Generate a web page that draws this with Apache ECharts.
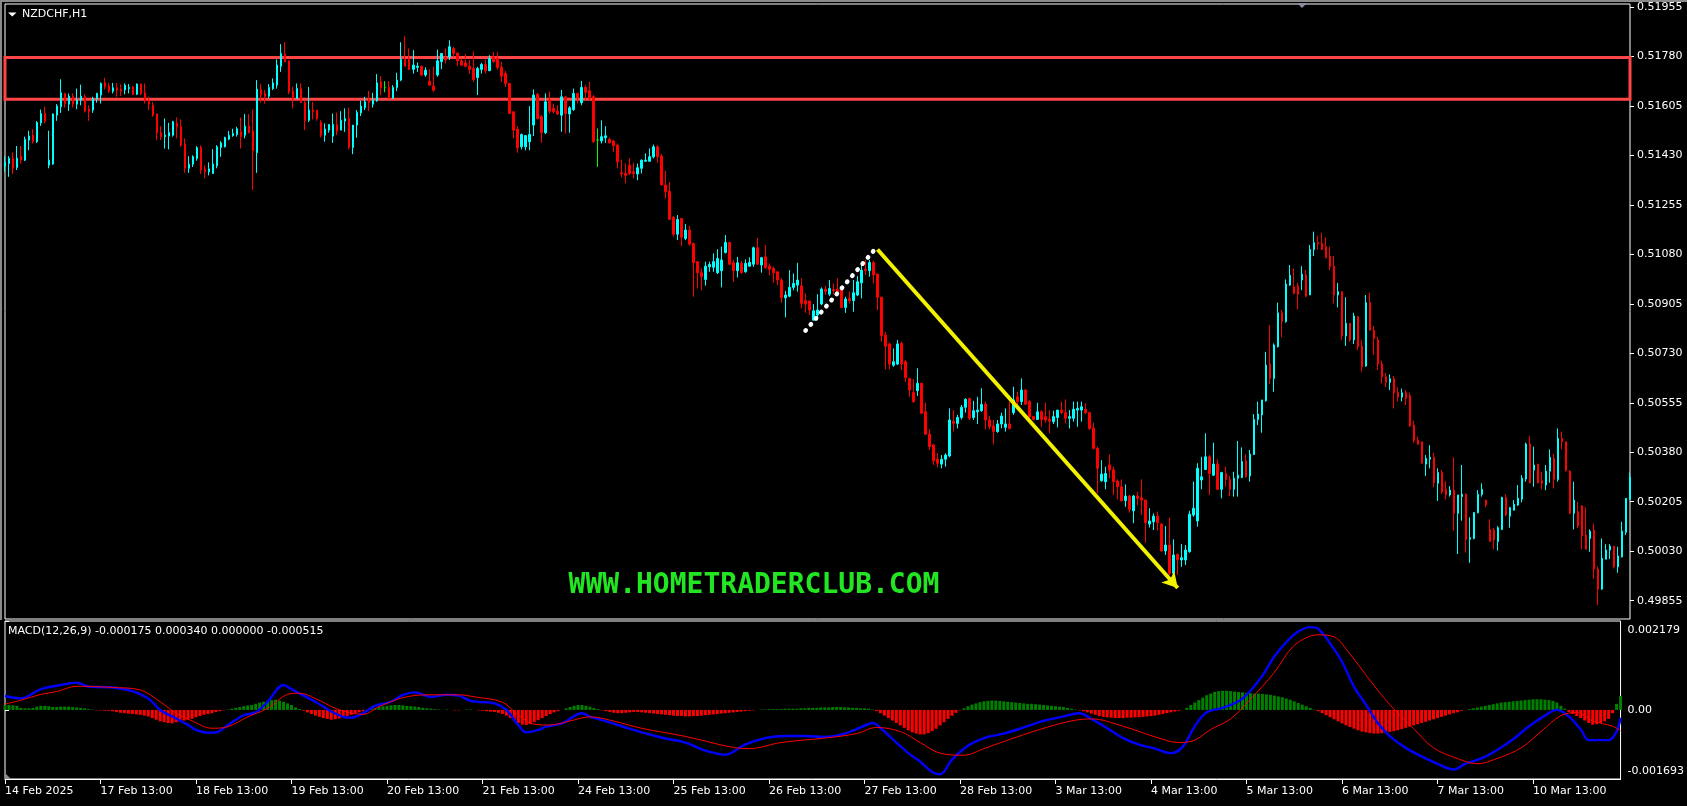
<!DOCTYPE html>
<html><head><meta charset="utf-8">
<script src="https://cdn.jsdelivr.net/npm/echarts@6/dist/echarts.min.js"></script>
<style>html,body{margin:0;padding:0;background:#000;overflow:hidden}#c{width:1687px;height:806px}</style>
</head><body><div id="c"></div>
<script>
// ---------------- DATA ----------------
const symbolTitle = 'NZDCHF,H1';
const macdTitle = 'MACD(12,26,9) -0.000175 0.000340 0.000000 -0.000515';
const watermark = 'WWW.HOMETRADERCLUB.COM';

const open = [
0.51392,0.51401,0.51419,0.51387,0.51427,0.51413,0.51484,0.51501,0.51478,0.51545,
0.51578,0.51395,0.51399,0.51572,0.51602,0.51649,0.51611,0.51639,0.51611,0.51625,
0.51637,0.51593,0.51590,0.51631,0.51643,0.51686,0.51675,0.51657,0.51669,0.51663,
0.51661,0.51666,0.51672,0.51646,0.51682,0.51651,0.51620,0.51607,0.51576,0.51510,
0.51496,0.51498,0.51501,0.51543,0.51531,0.51470,0.51384,0.51399,0.51419,0.51458,
0.51381,0.51372,0.51366,0.51393,0.51458,0.51460,0.51487,0.51499,0.51504,0.51513,
0.51501,0.51533,0.51516,0.51439,0.51663,0.51649,0.51639,0.51666,0.51678,0.51745,
0.51788,0.51763,0.51657,0.51631,0.51666,0.51616,0.51554,0.51590,0.51590,0.51546,
0.51501,0.51519,0.51498,0.51539,0.51519,0.51551,0.51560,0.51458,0.51537,0.51580,
0.51599,0.51625,0.51611,0.51623,0.51690,0.51670,0.51670,0.51631,0.51670,0.51696,
0.51769,0.51772,0.51734,0.51741,0.51745,0.51714,0.51692,0.51675,0.51714,0.51761,
0.51776,0.51778,0.51808,0.51792,0.51764,0.51757,0.51745,0.51737,0.51705,0.51734,
0.51751,0.51729,0.51778,0.51772,0.51741,0.51719,0.51684,0.51584,0.51523,0.51460,
0.51460,0.51478,0.51537,0.51646,0.51566,0.51510,0.51625,0.51596,0.51586,0.51572,
0.51637,0.51576,0.51592,0.51649,0.51616,0.51670,0.51658,0.51637,0.51484,0.51481,
0.51492,0.51487,0.51481,0.51466,0.51368,0.51366,0.51395,0.51372,0.51364,0.51384,
0.51409,0.51409,0.51425,0.51460,0.51427,0.51325,0.51303,0.51210,0.51151,0.51207,
0.51136,0.51166,0.51118,0.51054,0.51015,0.50991,0.51036,0.51034,0.51015,0.51022,
0.51086,0.51122,0.51050,0.51022,0.51048,0.51018,0.51038,0.51045,0.51103,0.51042,
0.51071,0.51038,0.51030,0.51018,0.50989,0.50926,0.50932,0.50963,0.50971,0.50968,
0.50916,0.50915,0.50847,0.50865,0.50904,0.50957,0.50939,0.50956,0.50956,0.50953,
0.50892,0.50924,0.50916,0.50936,0.50979,0.51027,0.51022,0.51051,0.51010,0.50928,
0.50794,0.50763,0.50688,0.50692,0.50765,0.50700,0.50641,0.50591,0.50598,0.50624,
0.50523,0.50444,0.50406,0.50355,0.50338,0.50355,0.50367,0.50490,0.50482,0.50503,
0.50539,0.50570,0.50503,0.50523,0.50527,0.50550,0.50494,0.50473,0.50453,0.50480,
0.50468,0.50480,0.50520,0.50576,0.50559,0.50600,0.50559,0.50506,0.50496,0.50523,
0.50506,0.50496,0.50488,0.50503,0.50529,0.50520,0.50500,0.50500,0.50529,0.50529,
0.50532,0.50520,0.50465,0.50394,0.50279,0.50276,0.50335,0.50317,0.50278,0.50258,
0.50209,0.50225,0.50173,0.50225,0.50219,0.50211,0.50126,0.50134,0.50154,0.50126,
0.50031,0.50052,0.49952,0.50019,0.49999,0.49999,0.50028,0.50158,0.50137,0.50282,
0.50319,0.50364,0.50299,0.50338,0.50249,0.50305,0.50284,0.50249,0.50288,0.50291,
0.50350,0.50296,0.50372,0.50496,0.50512,0.50562,0.50692,0.50641,0.50753,0.50873,
0.50842,0.50971,0.50965,0.50968,0.50989,0.51007,0.50936,0.51097,0.51121,0.51118,
0.51107,0.51074,0.51038,0.50936,0.50948,0.50791,0.50836,0.50777,0.50859,0.50755,
0.50685,0.50909,0.50812,0.50777,0.50692,0.50647,0.50627,0.50640,0.50592,0.50575,
0.50590,0.50580,0.50476,0.50423,0.50417,0.50338,0.50355,0.50362,0.50270,0.50308,
0.50249,0.50229,0.50246,0.50164,0.50223,0.50232,0.50072,0.50075,0.50166,0.50231,
0.50211,0.50107,0.50105,0.50064,0.50107,0.50220,0.50154,0.50175,0.50193,0.50214,
0.50285,0.50409,0.50317,0.50338,0.50279,0.50264,0.50313,0.50358,0.50284,0.50429,
0.50417,0.50313,0.50164,0.50170,0.50190,0.50087,0.50075,0.50105,0.49967,0.49896,
0.50002,0.50034,0.50048,0.49975,0.50010,0.50097,0.50214];

const high = [
0.51427,0.51427,0.51440,0.51463,0.51463,0.51496,0.51517,0.51523,0.51551,0.51592,
0.51602,0.51517,0.51578,0.51611,0.51699,0.51651,0.51649,0.51649,0.51666,0.51680,
0.51646,0.51607,0.51637,0.51651,0.51688,0.51704,0.51686,0.51686,0.51686,0.51681,
0.51684,0.51682,0.51675,0.51684,0.51684,0.51684,0.51637,0.51619,0.51578,0.51533,
0.51560,0.51545,0.51552,0.51564,0.51557,0.51490,0.51427,0.51430,0.51463,0.51466,
0.51395,0.51405,0.51452,0.51466,0.51480,0.51496,0.51516,0.51524,0.51531,0.51564,
0.51576,0.51576,0.51593,0.51696,0.51682,0.51661,0.51682,0.51702,0.51769,0.51823,
0.51830,0.51767,0.51672,0.51684,0.51684,0.51623,0.51672,0.51619,0.51590,0.51554,
0.51543,0.51539,0.51578,0.51581,0.51586,0.51596,0.51599,0.51537,0.51590,0.51623,
0.51637,0.51658,0.51651,0.51717,0.51710,0.51692,0.51692,0.51678,0.51722,0.51830,
0.51851,0.51808,0.51802,0.51758,0.51745,0.51741,0.51734,0.51743,0.51804,0.51792,
0.51808,0.51837,0.51814,0.51792,0.51772,0.51788,0.51767,0.51797,0.51743,0.51757,
0.51769,0.51784,0.51795,0.51795,0.51761,0.51728,0.51686,0.51584,0.51533,0.51507,
0.51500,0.51604,0.51663,0.51651,0.51572,0.51649,0.51655,0.51613,0.51607,0.51661,
0.51637,0.51604,0.51666,0.51651,0.51693,0.51678,0.51690,0.51643,0.51525,0.51554,
0.51533,0.51493,0.51484,0.51472,0.51415,0.51401,0.51419,0.51404,0.51401,0.51415,
0.51437,0.51454,0.51468,0.51466,0.51434,0.51375,0.51336,0.51215,0.51219,0.51207,
0.51187,0.51180,0.51121,0.51056,0.51030,0.51054,0.51054,0.51083,0.51098,0.51107,
0.51148,0.51124,0.51060,0.51071,0.51057,0.51062,0.51069,0.51107,0.51138,0.51071,
0.51113,0.51048,0.51036,0.51018,0.50995,0.50951,0.51024,0.51012,0.51050,0.50995,
0.50942,0.50915,0.50904,0.50939,0.50963,0.50968,0.50989,0.50977,0.50995,0.50965,
0.50930,0.50948,0.50989,0.51003,0.51048,0.51060,0.51060,0.51057,0.51012,0.50930,
0.50806,0.50767,0.50747,0.50777,0.50771,0.50706,0.50641,0.50638,0.50677,0.50626,
0.50555,0.50461,0.50409,0.50376,0.50370,0.50376,0.50535,0.50529,0.50512,0.50547,
0.50571,0.50573,0.50562,0.50576,0.50606,0.50559,0.50508,0.50494,0.50494,0.50520,
0.50535,0.50559,0.50612,0.50594,0.50641,0.50602,0.50565,0.50508,0.50555,0.50529,
0.50555,0.50529,0.50527,0.50529,0.50559,0.50567,0.50529,0.50559,0.50559,0.50559,
0.50553,0.50523,0.50484,0.50400,0.50352,0.50329,0.50372,0.50329,0.50284,0.50284,
0.50266,0.50229,0.50229,0.50240,0.50284,0.50213,0.50182,0.50164,0.50170,0.50128,
0.50119,0.50149,0.50072,0.50022,0.50055,0.50052,0.50173,0.50276,0.50341,0.50364,
0.50447,0.50370,0.50414,0.50355,0.50311,0.50329,0.50296,0.50311,0.50420,0.50397,
0.50372,0.50388,0.50515,0.50559,0.50565,0.50735,0.50830,0.50765,0.50909,0.50883,
0.50991,0.51042,0.51030,0.50979,0.51038,0.51024,0.51113,0.51160,0.51144,0.51156,
0.51140,0.51107,0.51074,0.50979,0.50948,0.50928,0.50836,0.50873,0.50862,0.50777,
0.50936,0.50944,0.50826,0.50788,0.50704,0.50660,0.50655,0.50650,0.50610,0.50605,
0.50600,0.50590,0.50491,0.50435,0.50417,0.50370,0.50405,0.50378,0.50323,0.50317,
0.50278,0.50260,0.50362,0.50229,0.50335,0.50234,0.50150,0.50167,0.50246,0.50270,
0.50211,0.50143,0.50113,0.50119,0.50223,0.50231,0.50187,0.50211,0.50264,0.50299,
0.50414,0.50437,0.50400,0.50338,0.50311,0.50335,0.50390,0.50374,0.50464,0.50453,
0.50417,0.50317,0.50276,0.50205,0.50193,0.50185,0.50107,0.50128,0.49975,0.50075,
0.50055,0.50055,0.50048,0.50046,0.50134,0.50217,0.50308];

const low = [
0.51372,0.51354,0.51364,0.51378,0.51401,0.51410,0.51448,0.51472,0.51474,0.51534,
0.51543,0.51384,0.51397,0.51552,0.51580,0.51599,0.51587,0.51599,0.51593,0.51607,
0.51581,0.51552,0.51580,0.51616,0.51613,0.51663,0.51651,0.51649,0.51637,0.51640,
0.51646,0.51649,0.51643,0.51643,0.51643,0.51613,0.51590,0.51566,0.51484,0.51484,
0.51454,0.51451,0.51496,0.51490,0.51460,0.51368,0.51368,0.51389,0.51411,0.51364,
0.51348,0.51359,0.51364,0.51384,0.51425,0.51458,0.51484,0.51496,0.51496,0.51454,
0.51490,0.51507,0.51307,0.51368,0.51616,0.51613,0.51631,0.51661,0.51666,0.51725,
0.51759,0.51646,0.51596,0.51631,0.51616,0.51519,0.51548,0.51557,0.51552,0.51493,
0.51478,0.51510,0.51474,0.51501,0.51519,0.51513,0.51451,0.51434,0.51492,0.51569,
0.51590,0.51587,0.51599,0.51619,0.51643,0.51653,0.51631,0.51631,0.51657,0.51692,
0.51745,0.51731,0.51719,0.51725,0.51710,0.51708,0.51678,0.51655,0.51708,0.51735,
0.51755,0.51767,0.51778,0.51745,0.51745,0.51741,0.51719,0.51690,0.51643,0.51719,
0.51719,0.51729,0.51757,0.51733,0.51690,0.51672,0.51578,0.51490,0.51439,0.51451,
0.51448,0.51448,0.51498,0.51557,0.51474,0.51505,0.51578,0.51578,0.51572,0.51513,
0.51507,0.51510,0.51587,0.51613,0.51607,0.51625,0.51625,0.51474,0.51389,0.51472,
0.51474,0.51472,0.51442,0.51384,0.51352,0.51331,0.51360,0.51348,0.51342,0.51366,
0.51407,0.51409,0.51419,0.51404,0.51325,0.51277,0.51201,0.51142,0.51130,0.51109,
0.51130,0.51110,0.50930,0.50959,0.50953,0.50969,0.51018,0.51018,0.51010,0.50963,
0.51083,0.51042,0.50983,0.50998,0.51012,0.51015,0.51036,0.51036,0.51042,0.51015,
0.51030,0.51006,0.50979,0.50971,0.50909,0.50857,0.50928,0.50953,0.50948,0.50889,
0.50873,0.50865,0.50847,0.50847,0.50900,0.50936,0.50932,0.50939,0.50932,0.50889,
0.50873,0.50906,0.50877,0.50932,0.50924,0.51007,0.51001,0.50977,0.50883,0.50771,
0.50673,0.50673,0.50682,0.50688,0.50671,0.50629,0.50576,0.50555,0.50579,0.50515,
0.50441,0.50388,0.50335,0.50326,0.50323,0.50329,0.50362,0.50453,0.50464,0.50496,
0.50520,0.50494,0.50494,0.50480,0.50523,0.50461,0.50461,0.50408,0.50449,0.50465,
0.50453,0.50461,0.50512,0.50529,0.50547,0.50547,0.50496,0.50492,0.50494,0.50470,
0.50484,0.50447,0.50480,0.50468,0.50515,0.50482,0.50464,0.50488,0.50470,0.50488,
0.50515,0.50459,0.50390,0.50234,0.50276,0.50249,0.50288,0.50229,0.50213,0.50205,
0.50187,0.50166,0.50129,0.50193,0.50158,0.50060,0.50114,0.50105,0.50103,0.50028,
0.50017,0.49946,0.49946,0.49946,0.49975,0.49981,0.50025,0.50152,0.50117,0.50249,
0.50317,0.50229,0.50296,0.50246,0.50217,0.50258,0.50225,0.50223,0.50223,0.50288,
0.50291,0.50276,0.50370,0.50476,0.50449,0.50559,0.50621,0.50594,0.50751,0.50786,
0.50838,0.50968,0.50939,0.50885,0.50953,0.50928,0.50936,0.51074,0.51097,0.51095,
0.51065,0.51024,0.50906,0.50892,0.50777,0.50756,0.50771,0.50763,0.50741,0.50665,
0.50682,0.50810,0.50724,0.50671,0.50623,0.50610,0.50600,0.50535,0.50560,0.50560,
0.50547,0.50470,0.50414,0.50405,0.50341,0.50296,0.50323,0.50256,0.50208,0.50232,
0.50213,0.50223,0.50102,0.50020,0.50138,0.50025,0.49989,0.50072,0.50164,0.50223,
0.50185,0.50064,0.50037,0.50032,0.50105,0.50154,0.50113,0.50175,0.50190,0.50203,
0.50276,0.50270,0.50258,0.50270,0.50249,0.50246,0.50272,0.50252,0.50276,0.50390,
0.50311,0.50161,0.50107,0.50111,0.50037,0.50037,0.50028,0.49932,0.49840,0.49893,
0.50001,0.50002,0.49969,0.49954,0.50008,0.50087,0.50211];

const close = [
0.51404,0.51419,0.51384,0.51420,0.51413,0.51486,0.51498,0.51480,0.51546,0.51578,
0.51551,0.51413,0.51576,0.51604,0.51651,0.51613,0.51639,0.51611,0.51625,0.51639,
0.51586,0.51586,0.51631,0.51649,0.51684,0.51672,0.51657,0.51669,0.51661,0.51657,
0.51678,0.51670,0.51646,0.51682,0.51649,0.51622,0.51611,0.51572,0.51510,0.51496,
0.51501,0.51511,0.51549,0.51531,0.51466,0.51384,0.51398,0.51425,0.51457,0.51378,
0.51372,0.51382,0.51399,0.51460,0.51474,0.51493,0.51501,0.51507,0.51524,0.51496,
0.51533,0.51511,0.51446,0.51664,0.51643,0.51639,0.51670,0.51686,0.51749,0.51790,
0.51761,0.51655,0.51631,0.51666,0.51616,0.51552,0.51590,0.51584,0.51560,0.51501,
0.51523,0.51539,0.51539,0.51515,0.51554,0.51560,0.51458,0.51537,0.51581,0.51604,
0.51619,0.51616,0.51625,0.51686,0.51669,0.51670,0.51631,0.51670,0.51696,0.51769,
0.51745,0.51734,0.51749,0.51745,0.51714,0.51731,0.51678,0.51660,0.51764,0.51790,
0.51767,0.51814,0.51790,0.51764,0.51749,0.51745,0.51734,0.51698,0.51737,0.51751,
0.51729,0.51772,0.51761,0.51741,0.51710,0.51684,0.51578,0.51519,0.51457,0.51504,
0.51500,0.51504,0.51643,0.51560,0.51510,0.51619,0.51586,0.51584,0.51576,0.51637,
0.51578,0.51598,0.51649,0.51633,0.51670,0.51653,0.51631,0.51478,0.51484,0.51496,
0.51499,0.51474,0.51464,0.51407,0.51364,0.51359,0.51366,0.51366,0.51386,0.51413,
0.51413,0.51425,0.51460,0.51425,0.51325,0.51301,0.51204,0.51151,0.51203,0.51140,
0.51166,0.51116,0.51050,0.51015,0.51001,0.51038,0.51044,0.51054,0.51065,0.51060,
0.51122,0.51045,0.51022,0.51050,0.51015,0.51048,0.51051,0.51103,0.51045,0.51068,
0.51032,0.51027,0.51015,0.50989,0.50926,0.50936,0.50963,0.50977,0.50989,0.50906,
0.50904,0.50883,0.50880,0.50883,0.50957,0.50948,0.50959,0.50951,0.50948,0.50892,
0.50922,0.50916,0.50944,0.50983,0.51024,0.51022,0.51051,0.51007,0.50928,0.50792,
0.50755,0.50692,0.50700,0.50763,0.50692,0.50644,0.50600,0.50559,0.50624,0.50518,
0.50444,0.50400,0.50350,0.50341,0.50355,0.50370,0.50494,0.50482,0.50503,0.50539,
0.50567,0.50500,0.50527,0.50529,0.50549,0.50494,0.50470,0.50453,0.50480,0.50508,
0.50480,0.50464,0.50565,0.50559,0.50600,0.50550,0.50506,0.50496,0.50523,0.50496,
0.50494,0.50490,0.50506,0.50529,0.50520,0.50500,0.50506,0.50532,0.50535,0.50541,
0.50520,0.50464,0.50394,0.50323,0.50303,0.50305,0.50317,0.50276,0.50258,0.50209,
0.50225,0.50178,0.50225,0.50217,0.50211,0.50131,0.50137,0.50154,0.50131,0.50031,
0.50052,0.49952,0.50017,0.49999,0.50007,0.50034,0.50161,0.50182,0.50323,0.50293,
0.50364,0.50305,0.50338,0.50249,0.50308,0.50284,0.50249,0.50288,0.50299,0.50347,
0.50293,0.50374,0.50496,0.50515,0.50565,0.50688,0.50641,0.50759,0.50873,0.50842,
0.50975,0.51006,0.50942,0.50939,0.51010,0.50932,0.51097,0.51121,0.51116,0.51097,
0.51069,0.51036,0.50936,0.50948,0.50791,0.50836,0.50777,0.50862,0.50753,0.50682,
0.50909,0.50812,0.50783,0.50692,0.50647,0.50627,0.50640,0.50590,0.50575,0.50590,
0.50570,0.50473,0.50421,0.50409,0.50341,0.50358,0.50362,0.50272,0.50308,0.50240,
0.50229,0.50246,0.50164,0.50229,0.50232,0.50072,0.50078,0.50167,0.50231,0.50249,
0.50193,0.50064,0.50070,0.50113,0.50220,0.50158,0.50184,0.50196,0.50217,0.50288,
0.50409,0.50272,0.50335,0.50272,0.50270,0.50313,0.50362,0.50284,0.50429,0.50417,
0.50315,0.50164,0.50211,0.50119,0.50084,0.50037,0.50101,0.49967,0.49896,0.50005,
0.50034,0.50048,0.49975,0.50013,0.50101,0.50217,0.50291];

// MACD histogram (main - signal), one value per bar
const macdHist = [
0.00012,0.00012,0.00011,0.0001,0.00005,0.00004,0.00004,0.00005,0.00008,0.0001,
0.0001,0.00009,0.00007,0.00007,0.00008,0.00008,0.00008,0.00007,0.00006,0.00005,
0.00004,0.00002,0.00001,-0.00001,-0.00001,-0.00002,-0.00002,-0.00003,-0.00005,-0.00007,
-0.00008,-0.00009,-0.0001,-0.00011,-0.00012,-0.00014,-0.00016,-0.0002,-0.00024,-0.00028,
-0.0003,-0.00032,-0.00033,-0.0003,-0.00028,-0.00026,-0.00024,-0.00022,-0.00018,-0.00015,
-0.00012,-0.0001,-0.00008,-0.00005,-0.00003,-0.00001,0.00001,0.00003,0.00005,0.00007,
0.00009,0.00011,0.00012,0.00015,0.00018,0.0002,0.00022,0.00024,0.00025,0.00023,
0.0002,0.00016,0.00012,0.00006,0.00002,-0.00002,-0.00006,-0.0001,-0.00014,-0.00017,
-0.0002,-0.00022,-0.00024,-0.00023,-0.00021,-0.00018,-0.00015,-0.00012,-0.00009,-0.00006,
-0.00003,0,0.00003,0.00005,0.00007,0.00009,0.0001,0.00011,0.00012,0.00012,
0.00011,0.0001,0.00009,0.00008,0.00007,0.00005,0.00004,0.00003,0.00002,0.00001,
0,0.00001,0,-0.00001,-0.00001,0,0.00001,0.00001,0,-0.00001,
-0.00002,-0.00003,-0.00004,-0.00005,-0.00007,-0.0001,-0.00014,-0.0002,-0.00026,-0.00032,
-0.00036,-0.00037,-0.00035,-0.0003,-0.00025,-0.0002,-0.00015,-0.0001,-0.00006,-0.00003,
0,0.00004,0.00007,0.0001,0.00012,0.00012,0.0001,0.00008,0.00005,0.00002,
-0.00001,-0.00003,-0.00005,-0.00007,-0.00008,-0.00008,-0.00007,-0.00006,-0.00005,-0.00005,
-0.00006,-0.00007,-0.00008,-0.00009,-0.0001,-0.00011,-0.00012,-0.00013,-0.00014,-0.00015,
-0.00015,-0.00016,-0.00016,-0.00015,-0.00015,-0.00014,-0.00013,-0.00012,-0.00011,-0.0001,
-0.00009,-0.00008,-0.00007,-0.00006,-0.00005,-0.00004,-0.00003,-0.00002,-0.00001,0,
0.00001,0.00001,0.00002,0.00002,0.00002,0.00002,0.00003,0.00003,0.00003,0.00003,
0.00004,0.00004,0.00005,0.00005,0.00005,0.00006,0.00006,0.00006,0.00007,0.00007,
0.00007,0.00006,0.00006,0.00005,0.00005,0.00004,0.00004,0.00003,0.00001,-0.00003,
-0.00008,-0.00014,-0.0002,-0.00026,-0.00032,-0.00038,-0.00044,-0.0005,-0.00055,-0.00058,
-0.0006,-0.0006,-0.00057,-0.00052,-0.00046,-0.00038,-0.0003,-0.00022,-0.00014,-0.00007,
-0.00001,0.00004,0.00009,0.00013,0.00016,0.00019,0.00021,0.00022,0.00023,0.00023,
0.00022,0.00021,0.0002,0.00019,0.00018,0.00017,0.00016,0.00015,0.00015,0.00014,
0.00013,0.00012,0.00011,0.0001,0.00009,0.00008,0.00007,0.00005,0.00003,0.00001,
-0.00001,-0.00003,-0.00006,-0.00009,-0.00012,-0.00015,-0.00017,-0.00018,-0.00019,-0.0002,
-0.0002,-0.0002,-0.00019,-0.00019,-0.00018,-0.00018,-0.00017,-0.00016,-0.00015,-0.00014,
-0.00012,-0.0001,-0.00008,-0.00006,-0.00004,-0.00002,0,0.00005,0.00012,0.00018,
0.00024,0.0003,0.00036,0.0004,0.00044,0.00046,0.00047,0.00047,0.00046,0.00045,
0.00044,0.00043,0.00042,0.00041,0.0004,0.0004,0.00039,0.00038,0.00037,0.00035,
0.00033,0.00031,0.00028,0.00025,0.00021,0.00017,0.00013,0.00009,0.00005,0.00001,
-0.00003,-0.00008,-0.00013,-0.00018,-0.00023,-0.00028,-0.00033,-0.00038,-0.00042,-0.00046,
-0.0005,-0.00053,-0.00055,-0.00057,-0.00058,-0.00058,-0.00057,-0.00056,-0.00054,-0.00052,
-0.0005,-0.00047,-0.00044,-0.00041,-0.00038,-0.00035,-0.00032,-0.00029,-0.00026,-0.00023,
-0.0002,-0.00017,-0.00014,-0.00011,-0.00008,-0.00006,-0.00002,0,0.00002,0.00004,
0.00006,0.00008,0.0001,0.00012,0.00014,0.00016,0.00018,0.00019,0.0002,0.00021,
0.00022,0.00023,0.00024,0.00025,0.00026,0.00026,0.00026,0.00025,0.00024,0.00022,
0.00018,0.0001,0.00003,-0.00005,-0.0001,-0.00015,-0.0002,-0.00026,-0.00032,-0.00036,
-0.00035,-0.00032,-0.00028,-0.00022,-0.00008,0.00015,0.00034];

// MACD main line (blue), read at these bars
const macdBars = [0,4,9,14,18,21,27,32,36,39,43,46,48,51,53,56,60,63,66,70,72,75,78,82,85,87,90,93,97,100,
103,107,111,114,117,120,123,126,129,131,134,136,140,145,147,149,155,160,166,171,176,181,186,191,196,201,206,211,215,218,
221,224,227,230,233,235,238,242,246,251,256,261,266,270,273,277,281,285,289,293,296,299,302,306,310,313,316,319,322,325,
328,330,333,336,339,342,345,348,352,356,360,364,367,371,375,379,383,387,390,393,396,398,403,405,406];
const macdMain = [0.00034,0.00028,0.00051,0.00061,0.00067,0.00057,0.00055,0.00046,0.00028,0,
-0.00021,-0.00037,-0.00049,-0.00056,-0.00055,-0.00037,-0.00013,-0.00006,0.0002,0.00061,
0.00051,0.00035,0.0002,-0.00004,-0.00017,-0.00019,-0.00008,0.0001,0.0002,0.00037,
0.00043,0.00032,0.00037,0.00035,0.00022,0.00019,0.00016,0,-0.00037,-0.00055,
-0.00049,-0.00041,-0.00033,-0.00008,-0.00017,-0.00022,-0.0004,-0.00055,-0.0007,-0.0008,
-0.001,-0.0011,-0.00085,-0.00069,-0.00064,-0.00064,-0.00066,-0.00058,-0.00043,-0.00032,
-0.00053,-0.0008,-0.00106,-0.00127,-0.00152,-0.00158,-0.00122,-0.00088,-0.00069,-0.00058,
-0.00043,-0.00027,-0.00016,-0.00008,-0.00022,-0.00045,-0.00069,-0.00085,-0.00095,-0.00106,
-0.0009,-0.0004,-0.00006,0.00005,0.00021,0.00047,0.00084,0.00131,0.00166,0.00192,
0.00203,0.00199,0.00163,0.00118,0.00057,0.00013,-0.00032,-0.00064,-0.00093,-0.00114,
-0.00132,-0.00146,-0.00132,-0.00119,-0.00098,-0.00072,-0.0004,-0.00014,0,-0.00016,
-0.00048,-0.00074,-0.00074,-0.00053,-0.00019];

// MACD signal line (red), read at these bars
const sigBars = [0,4,9,13,18,27,34,39,43,47,52,56,61,66,71,74,78,83,87,90,94,100,106,114,118,125,129,133,137,142,
147,152,160,171,182,187,195,206,214,219,225,230,235,241,246,252,260,268,273,281,289,295,299,303,308,313,319,324,330,334,
338,343,348,354,359,365,370,375,381,386,391,395,399,404,406];
const sigVals = [0.00014,0.00024,0.00038,0.00045,0.00058,0.00055,0.00049,0.0002,-0.00008,-0.00027,
-0.00045,-0.00041,-0.00017,0.00004,0.00038,0.00041,0.00028,0.00004,-0.00007,-0.00011,
0.00008,0.0003,0.00037,0.00037,0.00032,0.00019,-0.00013,-0.00035,-0.00037,-0.00027,
-0.00017,-0.00025,-0.00045,-0.00065,-0.0009,-0.00095,-0.0008,-0.00069,-0.00058,-0.00043,
-0.00053,-0.0008,-0.00106,-0.00111,-0.00095,-0.00074,-0.00048,-0.00027,-0.00022,-0.0004,
-0.00066,-0.0008,-0.00074,-0.00048,-0.00022,0.00026,0.00092,0.00158,0.00184,0.00179,
0.00137,0.00073,0.00013,-0.00046,-0.00093,-0.00119,-0.00132,-0.00119,-0.00093,-0.00053,
-0.00014,-0.00006,-0.00027,-0.0004,-0.00051];

// axes
const priceMin = 0.497903, priceMax = 0.519651;
const priceTicks = [0.49855,0.50030,0.50205,0.50380,0.50555,0.50730,0.50905,0.51080,0.51255,0.51430,0.51605,0.51780,0.51955];
const macdMin = -0.001693, macdMax = 0.002179;
const macdTicks = [-0.001693, 0, 0.002179];
const dateTickBars = [0,24,48,72,96,120,144,168,192,216,240,264,288,312,336,360,384];
const dateTickLabels = ['14 Feb 2025','17 Feb 13:00','18 Feb 13:00','19 Feb 13:00','20 Feb 13:00','21 Feb 13:00',
'24 Feb 13:00','25 Feb 13:00','26 Feb 13:00','27 Feb 13:00','28 Feb 13:00','3 Mar 13:00','4 Mar 13:00',
'5 Mar 13:00','6 Mar 13:00','7 Mar 13:00','10 Mar 13:00'];

// drawn objects (bar index, price)
const zoneTop = 0.51776, zoneBottom = 0.51628;
const whiteFrom = [200, 0.50810], whiteTo = [217, 0.51092];
const yellowFrom = [218, 0.51097], yellowTo = [293, 0.49900];

// ---------------- CHART ----------------
const FONT = 'DejaVu Sans';
const cats = open.map((_, i) => String(i));
const candles = open.map((o, i) => [o, close[i], low[i], high[i]]);
const tickSet = new Set(dateTickBars);
const labelAt = {};
dateTickBars.forEach((b, k) => { labelAt[b] = dateTickLabels[k]; });

const chart = echarts.init(document.getElementById('c'), null, {renderer: 'canvas'});
const option = {
  backgroundColor: '#000',
  animation: false,
  grid: [
    {left: 5, top: 4, width: 1625, height: 615, show: true, borderColor: '#fff', borderWidth: 1, backgroundColor: '#000'},
    {left: 5, top: 621, width: 1625, height: 158, show: true, borderColor: '#fff', borderWidth: 1, backgroundColor: '#000'}
  ],
  xAxis: [
    {type: 'category', gridIndex: 0, data: cats, boundaryGap: false, show: false},
    {type: 'category', gridIndex: 1, data: cats, boundaryGap: false, position: 'bottom',
      axisLine: {show: true, onZero: false, lineStyle: {color: '#fff'}},
      axisTick: {show: true, interval: (i) => tickSet.has(i), length: 5, lineStyle: {color: '#fff'}},
      axisLabel: {show: true, interval: (i) => tickSet.has(i), formatter: (v, i) => labelAt[i] || '',
        color: '#fff', fontFamily: FONT, fontSize: 11, align: 'left', margin: 7},
      splitLine: {show: false}},
    {type: 'value', gridIndex: 1, min: 0, max: open.length - 1, show: false}
  ],
  yAxis: [
    {type: 'value', gridIndex: 0, position: 'right', min: priceMin, max: priceMax,
      axisLine: {show: false}, splitLine: {show: false},
      axisTick: {show: true, length: 4, customValues: priceTicks, lineStyle: {color: '#fff'}},
      axisLabel: {show: true, customValues: priceTicks, formatter: (v) => v.toFixed(5),
        color: '#fff', fontFamily: FONT, fontSize: 11, margin: 7}},
    {type: 'value', gridIndex: 1, position: 'right', min: macdMin, max: macdMax,
      axisLine: {show: false}, splitLine: {show: false},
      axisTick: {show: true, length: 4, customValues: macdTicks, lineStyle: {color: '#fff'}},
      axisLabel: {show: true, customValues: macdTicks, margin: 7,
        formatter: (v) => v === macdMax ? '{t|' + v.toFixed(6) + '}' : (v === macdMin ? '{b|' + v.toFixed(6) + '}' : '{m|0.00}'),
        rich: {
          t: {color: '#fff', fontFamily: FONT, fontSize: 11, padding: [18, 0, 0, 0]},
          b: {color: '#fff', fontFamily: FONT, fontSize: 11, padding: [0, 0, 15, 0]},
          m: {color: '#fff', fontFamily: FONT, fontSize: 11}
        }}}
  ],
  series: [
    {type: 'candlestick', xAxisIndex: 0, yAxisIndex: 0, data: candles, barWidth: 2,
      itemStyle: {color: '#00ffff', color0: '#ff0000', borderColor: '#00ffff', borderColor0: '#ff0000',
        borderColorDoji: '#00ff00', borderWidth: 1},
      emphasis: {disabled: true},
      markArea: {silent: true,
        itemStyle: {color: 'rgba(0,0,0,0)', borderColor: '#ff4545', borderWidth: 3},
        data: [[{xAxis: cats[0], yAxis: zoneTop}, {xAxis: cats[cats.length - 1], yAxis: zoneBottom}]]},
      markLine: {silent: true, animation: false, label: {show: false}, symbol: ['none', 'none'],
        emphasis: {disabled: true},
        data: [
          [{coord: [String(whiteFrom[0]), whiteFrom[1]], symbol: 'none',
             lineStyle: {color: '#ffffff', width: 4.5, type: [0.5, 7.5], cap: 'round'}},
           {coord: [String(whiteTo[0]), whiteTo[1]], symbol: 'none',
             lineStyle: {color: '#ffffff', width: 4.5, type: [0.5, 7.5], cap: 'round'}}],
          [{coord: [String(yellowFrom[0]), yellowFrom[1]], symbol: 'none',
             lineStyle: {color: '#f2f200', width: 4, type: 'solid'}},
           {coord: [String(yellowTo[0]), yellowTo[1]], symbol: 'arrow', symbolSize: [13, 15],
             lineStyle: {color: '#f2f200', width: 4, type: 'solid'}, itemStyle: {color: '#f2f200'}}]
        ]}
    },
    {type: 'bar', xAxisIndex: 1, yAxisIndex: 1, data: macdHist, barWidth: 3,
      itemStyle: {color: (p) => p.value >= 0 ? '#008000' : '#ff0000'}, emphasis: {disabled: true}},
    {type: 'line', xAxisIndex: 2, yAxisIndex: 1, data: macdBars.map((b, k) => [b, macdMain[k]]),
      showSymbol: false, smooth: 0.35, lineStyle: {color: '#0000ff', width: 2.4}, emphasis: {disabled: true}},
    {type: 'line', xAxisIndex: 2, yAxisIndex: 1, data: sigBars.map((b, k) => [b, sigVals[k]]),
      showSymbol: false, smooth: 0.35, lineStyle: {color: '#ff0000', width: 1}, emphasis: {disabled: true}}
  ],
  graphic: [
    {type: 'rect', shape: {x: 0, y: 0, width: 1687, height: 2}, style: {fill: '#8a8a8a'}, silent: true},
    {type: 'rect', shape: {x: 0, y: 0, width: 2, height: 620}, style: {fill: '#8a8a8a'}, silent: true},
    {type: 'polygon', shape: {points: [[8, 12.5], [16.5, 12.5], [12.25, 16.5]]}, style: {fill: '#fff'}, silent: true},
    {type: 'text', x: 22, y: 14, style: {text: symbolTitle, fill: '#fff', font: '11px "DejaVu Sans"', textVerticalAlign: 'middle'}, silent: true},
    {type: 'polygon', shape: {points: [[1297, 3], [1307, 3], [1302, 8]]}, style: {fill: '#8c8ca0'}, silent: true},
    {type: 'text', x: 8, y: 631, style: {text: macdTitle, fill: '#fff', font: '11px "DejaVu Sans"', textVerticalAlign: 'middle'}, silent: true},
    {type: 'polygon', shape: {points: [[5, 773], [5, 779], [11, 779]]}, style: {fill: '#8a8a8a'}, silent: true},
    {type: 'text', x: 754, y: 586, style: {text: watermark, fill: '#22e622', font: 'bold 28px "DejaVu Sans Mono"', textAlign: 'center', textVerticalAlign: 'middle'}, silent: true, z: 100}
  ]
};
chart.setOption(option);
</script></body></html>
